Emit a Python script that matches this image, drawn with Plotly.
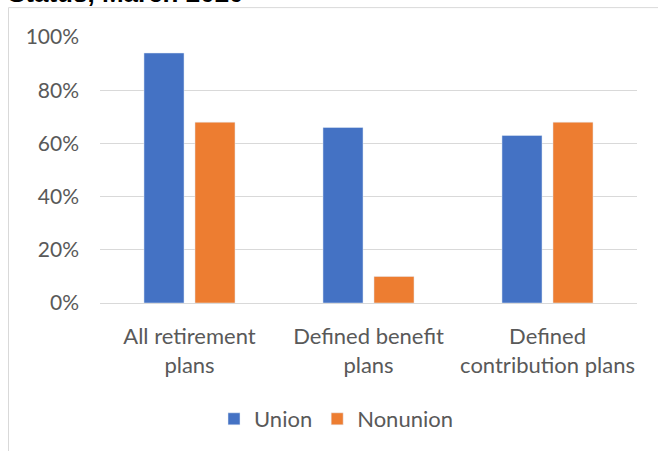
import plotly.graph_objects as go

categories = ["All retirement<br>plans", "Defined benefit<br>plans", "Defined<br>contribution plans"]
union = [0.94, 0.66, 0.63]
nonunion = [0.68, 0.10, 0.68]
tick_vals = [0, 0.2, 0.4, 0.6, 0.8, 1.0]
tick_text = ["0%", "20%", "40%", "60%", "80%", "100%"]
title_text = "Status, March 2020"

W, H = 658, 451
L, R, T, B = 100, 21, 37, 147
pw, ph = W - L - R, H - T - B

def px_x(x):
    return (x - L) / pw

def px_y(y):
    return (H - B - y) / ph

font = "Lato, 'Open Sans', sans-serif"
grey = "#595959"

fig = go.Figure()
fig.add_trace(go.Bar(name="Union", x=categories, y=union, marker_color="#4472C4"))
fig.add_trace(go.Bar(name="Nonunion", x=categories, y=nonunion, marker_color="#ED7D31"))

fig.update_layout(
    width=W, height=H,
    margin=dict(l=L, r=R, t=T, b=B),
    paper_bgcolor="white", plot_bgcolor="white",
    barmode="group", bargap=0.43, bargroupgap=0.215,
    font=dict(family=font, size=21, color=grey),
    showlegend=True,
    legend=dict(orientation="h", x=px_x(214), xanchor="left", y=px_y(419), yanchor="middle",
                font=dict(size=22, color=grey), itemwidth=30),
    xaxis=dict(showline=False, showgrid=False, ticks="", ticklabelstandoff=18,
               tickfont=dict(size=22, color=grey)),
    yaxis=dict(range=[0, 1.0001], tickvals=tick_vals, ticktext=tick_text, showgrid=True,
               gridcolor="#D9D9D9", gridwidth=1, zeroline=True, zerolinecolor="#D9D9D9",
               zerolinewidth=1, showline=False, ticks="", ticklabelstandoff=20,
               tickfont=dict(size=21, color=grey)),
    shapes=[
        dict(type="line", xref="paper", yref="paper", x0=px_x(8.5), x1=px_x(8.5),
             y0=px_y(7.5), y1=px_y(460), line=dict(color="#D9D9D9", width=1)),
        dict(type="line", xref="paper", yref="paper", x0=px_x(8.5), x1=px_x(670),
             y0=px_y(7.5), y1=px_y(7.5), line=dict(color="#D9D9D9", width=1)),
    ],
    annotations=[
        dict(text="<b>" + title_text + "</b>", xref="paper", yref="paper", x=px_x(6), xanchor="left",
             y=px_y(10), yanchor="bottom", showarrow=False,
             font=dict(family="'Liberation Sans', Arial, sans-serif", size=26, color="black")),
    ],
)

fig.write_html("out.html")
